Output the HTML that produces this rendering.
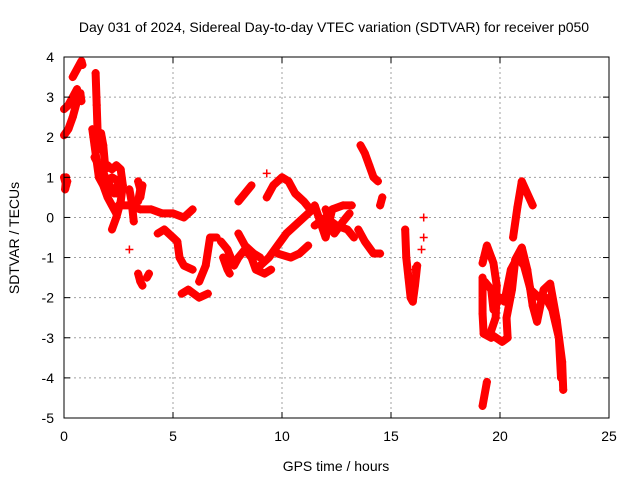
<!DOCTYPE html>
<html><head><meta charset="utf-8"><style>
body{margin:0;background:#fff}
svg{display:block;font-family:"Liberation Sans",sans-serif}
</style></head><body>
<svg id="c" width="640" height="480">
<rect width="640" height="480" fill="#fff"/>
<text x="334" y="32" text-anchor="middle" font-size="14">Day 031 of 2024, Sidereal Day-to-day VTEC variation (SDTVAR) for receiver p050</text>
<g id="grid"></g><g id="pts"></g><g id="axes"></g>
<text x="336" y="471" text-anchor="middle" font-size="14">GPS time / hours</text>
<text transform="translate(19,238) rotate(-90)" text-anchor="middle" font-size="14">SDTVAR / TECUs</text>
</svg>
<script>
const xTicks=[0,5,10,15,20,25];
const yTicks=[4,3,2,1,0,-1,-2,-3,-4,-5];
// segments: each a list of [hour, value]
const segments=[
[[0,1.0],[0.1,0.8],[0.15,0.9],[0.05,0.7],[0.1,1.0]],
[[0,2.05],[0.2,2.2],[0.4,2.5],[0.6,2.9],[0.75,3.1],[0.8,2.9]],
[[0,2.7],[0.2,2.8],[0.4,3.0],[0.6,3.2]],
[[0.4,3.5],[0.6,3.7],[0.8,3.9],[0.85,3.8]],
[[1.45,3.6],[1.5,2.8],[1.55,2.0],[1.6,1.7],[1.7,2.1],[1.8,1.8],[1.9,1.2]],
[[1.3,2.2],[1.4,1.8],[1.5,1.4],[1.6,1.0],[1.8,0.8],[2.0,0.5],[2.2,0.3],[2.4,0.1]],
[[1.4,1.5],[1.6,1.3],[1.9,1.0],[2.1,0.8]],
[[2.0,1.3],[2.2,1.2],[2.4,1.3],[2.6,1.2],[2.7,0.8],[2.6,0.4],[2.4,0.0],[2.2,-0.3]],
[[2.3,0.6],[2.0,0.9],[1.8,1.1]],[[2.2,1.0],[2.5,0.9],[2.4,0.6],[2.6,0.7]],
[[3.0,0.7],[3.1,0.4],[3.2,-0.1]],[[3.0,-0.8]],
[[3.4,0.9],[3.5,0.7],[3.4,0.4]],[[3.5,0.5],[3.6,0.8]],
[[3.4,-1.4],[3.5,-1.6],[3.6,-1.7]],[[3.8,-1.5],[3.9,-1.4]],
[[2.5,0.3],[3.0,0.3],[3.5,0.2],[4.0,0.2],[4.5,0.1],[5.0,0.1],[5.5,0.0],[5.9,0.2]],
[[4.3,-0.4],[4.6,-0.3],[5.0,-0.5],[5.2,-0.6],[5.3,-1.0],[5.5,-1.2],[5.9,-1.3]],
[[5.4,-1.9],[5.7,-1.8],[6.2,-2.0],[6.6,-1.9]],
[[6.2,-1.6],[6.5,-1.2],[6.7,-0.5],[7.0,-0.5]],
[[7.2,-0.6],[7.5,-0.8],[7.8,-1.2],[8.0,-1.0],[8.3,-0.8],[8.6,-1.0],[8.8,-1.3],[9.2,-1.4],[9.5,-1.3]],
[[7.3,-1.0],[7.5,-1.3],[7.6,-1.4]],
[[8.0,-0.4],[8.3,-0.7],[8.7,-0.9],[9.0,-1.0]],
[[9.0,-1.2],[9.4,-1.0],[9.8,-0.7],[10.2,-0.4],[10.6,-0.2],[11.0,0.0],[11.4,0.2]],
[[9.8,-0.9],[10.4,-1.0],[10.8,-0.9],[11.2,-0.7]],
[[9.3,0.5],[9.6,0.8],[10.0,1.0],[10.3,0.9],[10.6,0.6],[11.0,0.4],[11.3,0.2]],
[[8.0,0.4],[8.3,0.6],[8.6,0.8]],[[9.3,1.1]],
[[11.5,-0.2],[12.0,0.0],[12.5,-0.2],[13.0,-0.3],[13.3,-0.5]],
[[11.5,0.3],[12.0,-0.5],[12.3,0.2],[12.8,0.3],[13.2,0.3]],
[[12.0,0.2],[12.4,-0.4],[12.8,-0.1],[13.1,0.1]],
[[13.6,1.8],[13.8,1.6],[14.0,1.3],[14.2,1.0],[14.4,0.9]],
[[13.5,-0.3],[13.8,-0.6],[14.2,-0.9],[14.5,-0.9]],[[14.5,0.3],[14.6,0.5]],
[[15.65,-0.3],[15.7,-1.0],[15.8,-1.5],[15.9,-2.0],[16.0,-2.1],[16.1,-1.7],[16.2,-1.2]],
[[16.5,0.0]],[[16.5,-0.5]],[[16.4,-0.8]],[[16.0,-1.3]],
[[19.2,-1.14],[19.4,-0.7],[19.7,-1.14],[19.85,-1.7],[19.8,-2.5],[19.55,-2.9],[20.1,-3.1],[20.35,-3.0],[20.3,-2.5],[20.55,-1.8],[20.7,-1.05],[21.0,-0.75],[21.25,-1.3],[21.5,-2.2],[21.7,-2.6],[22.0,-1.8],[22.3,-1.65],[22.6,-2.55],[22.85,-3.6],[22.9,-4.3]],
[[19.3,-1.6],[19.6,-1.8],[19.7,-2.3],[20.0,-2.0],[20.2,-2.1],[20.5,-1.3],[20.8,-1.0],[21.1,-1.2],[21.4,-1.8],[21.8,-2.0],[22.1,-2.0],[22.4,-2.3],[22.7,-3.0],[22.8,-4.0]],
[[20.6,-0.5],[20.8,0.26],[21.0,0.9],[21.5,0.3]],
[[19.2,-1.5],[19.2,-2.4],[19.25,-2.9],[19.6,-3.0]],
[[19.2,-4.7],[19.4,-4.1]]
];
const NS='http://www.w3.org/2000/svg';
const X=h=>64+h*545/25, Y=v=>57+(4-v)*361/9;
const grid=document.getElementById('grid'),axes=document.getElementById('axes'),pts=document.getElementById('pts');
function mk(p,tag,a){const e=document.createElementNS(NS,tag);for(const k in a)e.setAttribute(k,a[k]);p.appendChild(e);return e;}
xTicks.forEach(t=>{
 const x=X(t);
 if(t>0&&t<25){const g=mk(grid,'line',{x1:x,x2:x,y1:57,y2:418,stroke:'#a0a0a0','stroke-dasharray':'2,3'});
 
 }
 mk(axes,'line',{x1:x,x2:x,y1:418,y2:412,stroke:'#000'});
 mk(axes,'line',{x1:x,x2:x,y1:57,y2:63,stroke:'#000'});
 const l=mk(axes,'text',{x:x,y:441,'text-anchor':'middle','font-size':14});l.textContent=t;
 
 
});
yTicks.forEach(t=>{
 const y=Y(t);
 if(t<4&&t>-5){const g=mk(grid,'line',{x1:64,x2:609,y1:y,y2:y,stroke:'#a0a0a0','stroke-dasharray':'2,3'});
 
 }
 mk(axes,'line',{x1:64,x2:70,y1:y,y2:y,stroke:'#000'});
 mk(axes,'line',{x1:603,x2:609,y1:y,y2:y,stroke:'#000'});
 const l=mk(axes,'text',{x:54,y:y+5,'text-anchor':'end','font-size':14});l.textContent=t;
 
 
});
const fr=mk(axes,'rect',{x:64,y:57,width:545,height:361,fill:'none',stroke:'#000'});


segments.forEach(s=>{
 const g=mk(pts,'g',{});
 
 
 if(s.length>1)mk(g,'polyline',{points:s.map(p=>X(p[0])+','+Y(p[1])).join(' '),fill:'none',stroke:'#f00','stroke-width':8,'stroke-linejoin':'round','stroke-linecap':'round'});
 s.forEach(p=>{const x=X(p[0]),y=Y(p[1]);
  mk(g,'path',{d:`M${x-4},${y}h8M${x},${y-4}v8`,stroke:'#f00','stroke-width':1.5});});
});
</script>
</body></html>
